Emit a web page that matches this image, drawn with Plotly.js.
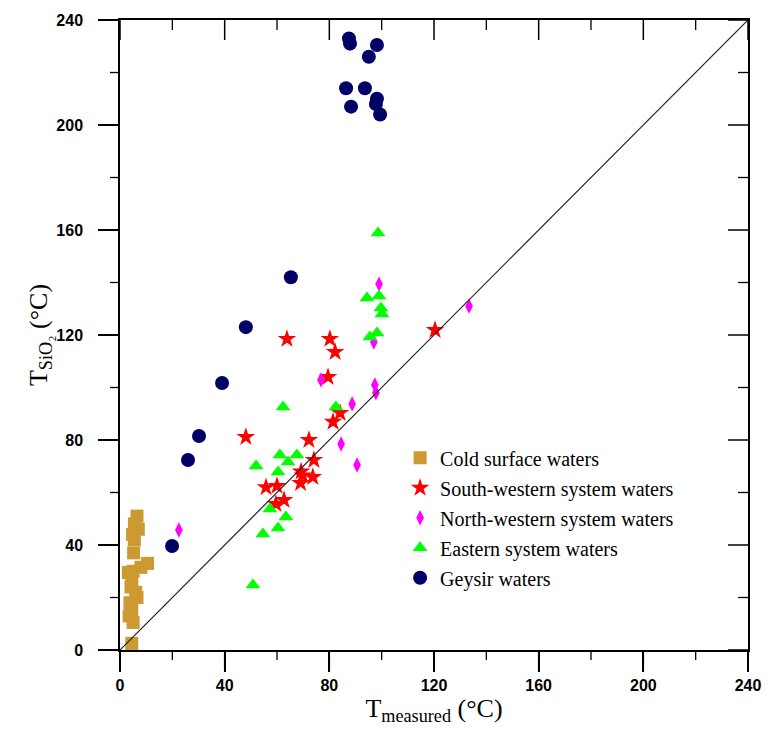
<!DOCTYPE html>
<html><head><meta charset="utf-8">
<script src="https://cdn.plot.ly/plotly-3.0.1.min.js"></script>
<style>html,body{margin:0;padding:0;background:#fff}#chart{width:768px;height:731px}</style>
</head><body><div id="chart"></div><script>
// Cold surface waters
const coldX=[6.5,5.5,7.0,4.8,5.5,5.2,10.5,8.0,3.2,5.0,4.5,4.2,6.0,6.5,3.8,4.5,3.5,5.0,4.5];
const coldY=[51,48,46,44,42,37,33,31.5,29.5,30,26.5,24,22,20,18,15,13,10.5,2.5];
// South-western system waters
const swX=[63.8,80.2,82.2,79.5,48.1,84.1,81.4,72.2,74.1,69.2,69.8,69.0,73.7,55.8,60.0,62.7,59.6,120.4];
const swY=[118.5,118.5,113.5,104,81.1,90.3,86.9,80,72.4,68,66.5,63.6,65.9,62,62.5,57.1,55.6,121.9];
// North-western system waters
const nwX=[22.5,76.8,88.7,84.5,90.6,97.4,97.8,99.0,97.0,133.4];
const nwY=[45.7,102.9,93.7,78.5,70.5,101,98,139.4,117.3,131];
// Eastern system waters
const eX=[98.6,94.4,99.0,99.7,100.1,95.5,98.2,62.3,82.5,52.0,61.1,67.6,64.2,60.4,57.3,63.4,60.4,54.6,50.8];
const eY=[158.9,134.1,134.9,130.3,128,119.2,120.8,92.6,92.6,70.1,74.3,74.3,71.6,67.8,53.7,50.7,46.5,44.2,24.8];
// Geysir waters
const gX=[87.5,87.9,98.2,95.1,86.4,93.6,98.2,97.8,88.3,99.4,65.3,48.1,39.0,30.2,26.0,19.9];
const gY=[233,231,230.5,226,214,214,210,208,207,204,142,123,101.7,81.5,72.4,39.6];
// 1:1 line
const lineX=[0,240];
const lineY=[0,240];
const axisRange=[0,240];
const majorTicks=[0,40,80,120,160,200,240];
const minorTicks=[20,60,100,140,180,220];

function tr(name,x,y,symbol,color,size,g){
  return {type:'scatter',mode:'markers',name:name,x:x,y:y,legendgroup:g,
    marker:{symbol:symbol,color:color,size:size,line:{width:0}}};
}
const data=[
  tr('Cold surface waters',coldX,coldY,'square','#CC9933',13,'a'),
  tr('South-western system waters',swX,swY,'star','#FF0000',14,'b'),
  tr('North-western system waters',nwX,nwY,'diamond-tall','#FF00FF',11,'c'),
  tr('Eastern system waters',eX,eY,'triangle-up','#00FF00',13,'d'),
  tr('Geysir waters',gX,gY,'circle','#000066',14,'e'),
  {type:'scatter',mode:'lines',x:lineX,y:lineY,showlegend:false,hoverinfo:'skip',
   line:{color:'#222',width:1.2}}
];
const serif='Liberation Serif, Times New Roman, serif';
const tickfont={family:'Liberation Sans, Arial, sans-serif',size:16,color:'#000',weight:'bold'};
const W=768,H=731,M={l:120,r:20,t:20,b:81};
const plotW=W-M.l-M.r, plotH=H-M.t-M.b;
function ax(extra){
  return Object.assign({range:axisRange,autorange:false,showgrid:false,zeroline:false,showline:true,mirror:true,
    linecolor:'#000',linewidth:1.5,tickmode:'array',tickvals:majorTicks,ticks:'outside',ticklen:20,
    tickcolor:'#000',tickwidth:1.5,fixedrange:true},extra);
}
// tick marks on all four frame lines, placed through the axis scales
// (outside on bottom/left, inside on top/right)
const shapes=[];
function addTicks(vals,len,w){
  const ln={color:'#000',width:w};
  vals.forEach(v=>{
    shapes.push({type:'line',xref:'x',yref:'paper',x0:v,x1:v,y0:0,y1:-len/plotH,line:ln});
    shapes.push({type:'line',xref:'paper',yref:'y',y0:v,y1:v,x0:0,x1:-len/plotW,line:ln});
    shapes.push({type:'line',xref:'x',yref:'paper',x0:v,x1:v,y0:1,y1:1-len/plotH,line:ln});
    shapes.push({type:'line',xref:'paper',yref:'y',y0:v,y1:v,x0:1,x1:1-len/plotW,line:ln});
  });
}
addTicks(majorTicks,20,1.5);
addTicks(minorTicks,10,1.3);
const layout={
  width:W,height:H,margin:M,
  paper_bgcolor:'#fff',plot_bgcolor:'#fff',
  font:{family:serif,color:'#000'},
  xaxis:ax({tickfont:tickfont,
    title:{text:'T<sub>measured</sub> (°C)',font:{family:serif,size:26,color:'#000'},standoff:4}}),
  yaxis:ax({tickfont:tickfont,ticklabelstandoff:12,
    title:{text:'T<sub>SiO₂</sub> (°C)',font:{family:serif,size:26,color:'#000'},standoff:0}}),
  shapes:shapes,
  showlegend:true,
  legend:{x:0.446,y:0.336,xanchor:'left',yanchor:'top',bgcolor:'rgba(0,0,0,0)',borderwidth:0,
    traceorder:'grouped',tracegroupgap:1,
    font:{family:serif,size:20,color:'#000'}}
};
Plotly.newPlot('chart',data,layout,{displayModeBar:false});
</script></body></html>
